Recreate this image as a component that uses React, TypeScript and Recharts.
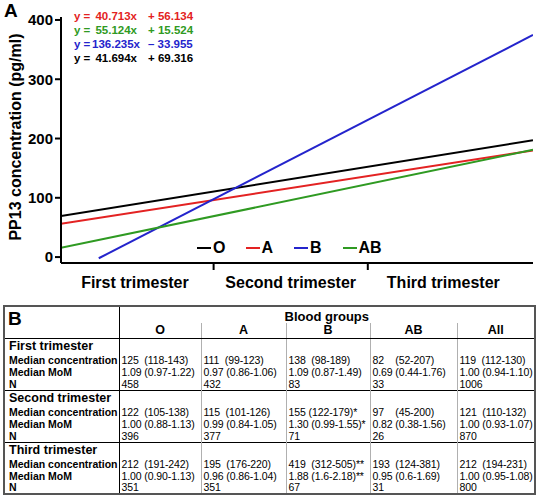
import { Line, LineChart, XAxis, YAxis } from 'recharts'

// 回归线端点(x 为孕期刻度 0..3),读自原图
const lineX = [0, 3]
const oValues = [69.3, 197]
const aValues = [56.1, 180]
const bX = [0.24, 3]
const bValues = [-2, 374.7]
const abValues = [15.5, 181]

const yTicks = [0, 100, 200, 300, 400]
const xTickMarks = [0.97, 1.95]
const xLabelPos = [0.47, 1.46, 2.43]
const xLabels = ['First trimester', 'Second trimester', 'Third trimester']

// 方程:红 A、绿 AB、蓝 B、黑 O
const eqColors = ['#e32222', '#2f9a22', '#2424cc', '#000000']
const eqSlopes = ['40.713x', '55.124x', '136.235x', '41.694x']
const eqIntercepts = ['+ 56.134', '+ 15.524', '– 33.955', '+ 69.316']

const groups = ['O', 'A', 'B', 'AB', 'All']
const trimesters = ['First trimester', 'Second trimester', 'Third trimester']
const rowLabels = ['Median concentration', 'Median MoM', 'N']
const medianConc = [
  ['125  (118-143)', '111  (99-123)', '138  (98-189)', '82    (52-207)', '119  (112-130)'],
  ['122  (105-138)', '115  (101-126)', '155 (122-179)*', '97    (45-200)', '121  (110-132)'],
  ['212  (191-242)', '195  (176-220)', '419  (312-505)**', '193  (124-381)', '212  (194-231)'],
]
const medianMoM = [
  ['1.09 (0.97-1.22)', '0.97 (0.86-1.06)', '1.09 (0.87-1.49)', '0.69 (0.44-1.76)', '1.00 (0.94-1.10)'],
  ['1.00 (0.88-1.13)', '0.99 (0.84-1.05)', '1.30 (0.99-1.55)*', '0.82 (0.38-1.56)', '1.00 (0.93-1.07)'],
  ['1.00 (0.90-1.13)', '0.96 (0.86-1.04)', '1.88 (1.6-2.18)**', '0.95 (0.6-1.69)', '1.00 (0.95-1.08)'],
]
const counts = [
  ['458', '432', '83', '33', '1006'],
  ['396', '377', '71', '26', '870'],
  ['351', '351', '67', '31', '800'],
]

const FONT = '"Liberation Sans", Arial, sans-serif'
const toPts = (xs: number[], ys: number[]) => xs.map((x, i) => ({ x, y: ys[i] }))

const series = [
  { name: 'O', color: '#000000', data: toPts(lineX, oValues) },
  { name: 'A', color: '#e32222', data: toPts(lineX, aValues) },
  { name: 'B', color: '#2424cc', data: toPts(bX, bValues) },
  { name: 'AB', color: '#2f9a22', data: toPts(lineX, abValues) },
]

function XTick(props: any) {
  const { x, y, payload } = props
  const i = xLabelPos.indexOf(payload.value)
  if (i >= 0)
    return (
      <text x={x} y={y + 25} textAnchor="middle" fontSize={16} fontWeight="bold" fontFamily={FONT} fill="#000">
        {xLabels[i]}
      </text>
    )
  return <line x1={x} x2={x} y1={y} y2={y + 7} stroke="#000" strokeWidth={2} />
}

const grey = '1.5px solid #b0b0b0'
const black = '1px solid #000'
const colW = [115, 82, 85, 84, 87, 78]

function Table() {
  const labelCell = { borderRight: black, padding: '0 0 0 4px', whiteSpace: 'nowrap' as const }
  const dataCell = (j: number) => ({
    borderLeft: j === 0 ? black : grey,
    padding: '0 0 0 2px',
    whiteSpace: 'pre' as const,
    fontSize: 10.5,
    letterSpacing: -0.1,
  })
  return (
    <table
      style={{
        position: 'absolute',
        left: 3,
        top: 305,
        width: 531,
        borderCollapse: 'collapse',
        tableLayout: 'fixed',
        border: '2px solid #555',
        fontFamily: FONT,
        fontSize: 10.5,
        lineHeight: 1,
      }}
    >
      <colgroup>
        {colW.map((w, i) => (
          <col key={i} style={{ width: w }} />
        ))}
      </colgroup>
      <tbody>
        <tr style={{ height: 17 }}>
          <td rowSpan={2} style={{ ...labelCell, verticalAlign: 'top', fontWeight: 'bold', fontSize: 19, padding: '2px 0 0 3px', borderBottom: '1.5px solid #000' }}>
            B
          </td>
          <td colSpan={5} style={{ textAlign: 'center', fontWeight: 'bold', fontSize: 13, verticalAlign: 'bottom', padding: 0 }}>
            Blood groups
          </td>
        </tr>
        <tr style={{ height: 15 }}>
          {groups.map((g, j) => (
            <td key={g} style={{ textAlign: 'center', fontWeight: 'bold', fontSize: 12.5, borderLeft: j === 0 ? black : grey, borderBottom: '1.5px solid #000', padding: 0 }}>
              {g}
            </td>
          ))}
        </tr>
        {trimesters.map((t, s) => {
          const rows = [medianConc[s], medianMoM[s], counts[s]]
          return [
            <tr key={t} style={{ height: 16, borderTop: s > 0 ? black : undefined }}>
              <td style={{ ...labelCell, fontWeight: 'bold', fontSize: 12.5 }}>{t}</td>
              {groups.map((g, j) => (
                <td key={g} style={dataCell(j)} />
              ))}
            </tr>,
            ...rows.map((vals, r) => (
              <tr key={t + r} style={{ height: 12 }}>
                <td style={{ ...labelCell, fontWeight: 'bold' }}>{rowLabels[r]}</td>
                {vals.map((v, j) => (
                  <td key={j} style={dataCell(j)}>
                    {v}
                  </td>
                ))}
              </tr>
            )),
          ]
        })}
      </tbody>
    </table>
  )
}

export default function App() {
  return (
    <div style={{ position: 'absolute', left: 0, top: 0, width: 537, height: 504, background: '#fff', fontFamily: FONT }}>
      <LineChart width={537} height={300} margin={{ top: 17, right: 4, bottom: 7, left: 0 }}>
        <XAxis
          type="number"
          dataKey="x"
          domain={[0, 3]}
          ticks={[...xLabelPos, ...xTickMarks].sort((a, b) => a - b)}
          interval={0}
          tick={<XTick />}
          tickLine={false}
          tickSize={0}
          tickMargin={0}
          height={30}
          axisLine={{ stroke: '#000', strokeWidth: 2 }}
          allowDataOverflow
        />
        <YAxis
          type="number"
          domain={[-10, 405]}
          ticks={yTicks}
          interval={0}
          width={61}
          tickSize={6}
          tickMargin={2}
          tick={{ fontSize: 15, fontWeight: 'bold', fill: '#000', fontFamily: FONT }}
          tickLine={{ stroke: '#000', strokeWidth: 2 }}
          axisLine={{ stroke: '#000', strokeWidth: 2 }}
          allowDataOverflow
        />
        {series.map((s) => (
          <Line
            key={s.name}
            data={s.data}
            dataKey="y"
            name={s.name}
            stroke={s.color}
            strokeWidth={2}
            dot={false}
            activeDot={false}
            isAnimationActive={false}
          />
        ))}
      </LineChart>

      {/* 图例 */}
      <div style={{ position: 'absolute', left: 197, top: 239, display: 'flex', fontWeight: 'bold', fontSize: 16, lineHeight: '18px' }}>
        {series.map((s) => (
          <div key={s.name} style={{ width: 48.5, display: 'flex', alignItems: 'center' }}>
            <span style={{ width: 14, height: 2, background: s.color, marginRight: 2 }} />
            <span>{s.name}</span>
          </div>
        ))}
      </div>

      <div style={{ position: 'absolute', left: 4, top: 0, fontSize: 19, fontWeight: 'bold' }}>A</div>
      <div
        style={{
          position: 'absolute',
          left: 16,
          top: 137,
          transform: 'translate(-50%, -50%) rotate(-90deg)',
          whiteSpace: 'nowrap',
          fontSize: 16,
          fontWeight: 'bold',
        }}
      >
        PP13 concentration (pg/ml)
      </div>
      {eqSlopes.map((sl, i) => (
        <div
          key={i}
          style={{ position: 'absolute', left: 74, top: 10 + i * 14, fontSize: 11.5, fontWeight: 'bold', color: eqColors[i], lineHeight: '12px', whiteSpace: 'pre' }}
        >
          <span style={{ display: 'inline-block', width: 18 }}>y =</span>
          <span style={{ display: 'inline-block', width: 45, textAlign: 'right' }}>{sl}</span>
          <span style={{ display: 'inline-block', marginLeft: 11 }}>{eqIntercepts[i]}</span>
        </div>
      ))}
      <Table />
    </div>
  )
}
